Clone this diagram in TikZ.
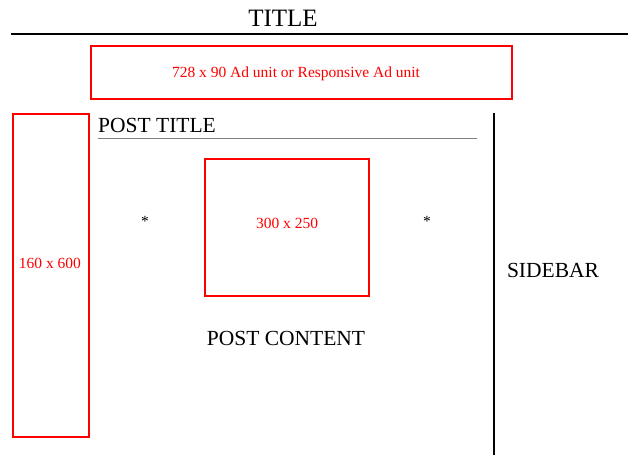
\documentclass[tikz,border=0pt]{standalone}
\usepackage{fontspec}
\setmainfont{Liberation Serif}
\usepackage{tikz}

\begin{document}
\begin{tikzpicture}[x=1pt,y=-1pt,
		adbox/.style={draw=red, line width=2pt},
		adtext/.style={text=red, inner sep=0pt, anchor=base, font=\fontsize{15.5}{18}\selectfont},
		heading/.style={inner sep=0pt, anchor=base, font=\fontsize{21.5}{25}\selectfont}]
				\useasboundingbox (0,0) rectangle (640,464);

				% header
				\node[inner sep=0pt, anchor=base, font=\fontsize{25}{30}\selectfont] (title) at (283,26.5) {TITLE};
				\draw[line width=2pt] (11,34) -- (628,34);

				\draw[adbox] (91,46) rectangle (512,99);
				\node[adtext] (leaderboard) at (296,77) {728 x 90 Ad unit or Responsive Ad unit};

				% left skyscraper
				\draw[adbox] (13,114) rectangle (89,437);
				\node[adtext] (skyscraper) at (50,268) {160 x 600};

				% post
				\node[heading, anchor=base west] (posttitle) at (98,132) {POST TITLE};
				\draw[gray, line width=1pt] (98,138) -- (477,138);

				\draw[adbox] (205,159) rectangle (369,296);
				\node[adtext] (rectangle) at (287,228) {300 x 250};

				\node[adtext, text=black] (leftstar) at (145,226) {*};
				\node[adtext, text=black] (rightstar) at (427,226) {*};

				\node[heading] (postcontent) at (286,345) {POST CONTENT};

				% sidebar
				\draw[line width=2pt] (494,113) -- (494,455);
				\node[heading] (sidebar) at (553,277) {SIDEBAR};

\end{tikzpicture}
\end{document}
